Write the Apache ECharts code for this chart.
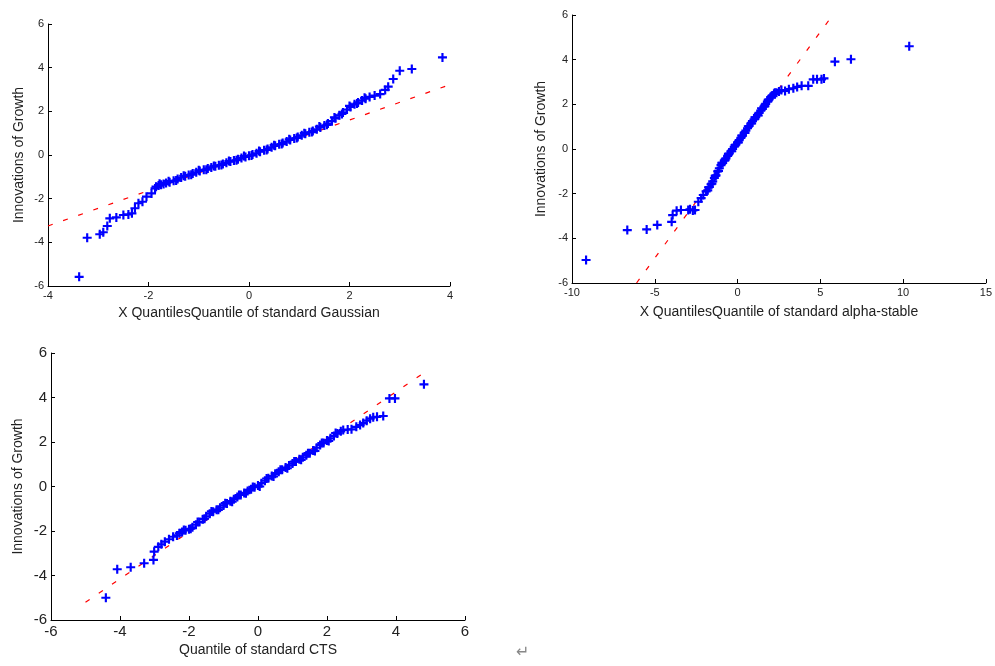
<!DOCTYPE html>
<html>
<head>
<meta charset="utf-8">
<script src="https://cdn.jsdelivr.net/npm/echarts@6/dist/echarts.min.js"></script>
<style>
  html, body { margin: 0; padding: 0; background: #fff; }
  #chart { width: 995px; height: 666px; }
</style>
</head>
<body>
<div id="chart"></div>
<script>
// sample vs theoretical quantiles ([x, y])
const gaussPts = [
  [-3.38,-5.58],[-3.22,-3.79],[-2.97,-3.63],[-2.9,-3.54],[-2.82,-3.25],[-2.77,-2.9],[-2.64,-2.86],
  [-2.5,-2.75],[-2.4,-2.72],[-2.33,-2.67],[-2.27,-2.44],[-2.2,-2.21],[-2.12,-2.14],[-2.04,-1.91],
  [-1.94,-1.76],[-1.87,-1.53],
  [-1.85,-1.45],[-1.8,-1.4],[-1.75,-1.36],[-1.7,-1.33],[-1.65,-1.28],[-1.58,-1.25],[-1.5,-1.18],
  [-1.42,-1.1],[-1.35,-1.03],[-1.27,-0.97],[-1.2,-0.92],[-1.12,-0.85],[-1.05,-0.79],[-0.98,-0.73],
  [-0.9,-0.68],[-0.82,-0.62],[-0.75,-0.57],[-0.67,-0.52],[-0.6,-0.47],[-0.52,-0.41],[-0.45,-0.36],
  [-0.37,-0.3],[-0.3,-0.25],[-0.22,-0.19],[-0.15,-0.14],[-0.07,-0.09],[0,-0.04],[0.07,0.02],
  [0.15,0.08],[0.22,0.15],[0.3,0.22],[0.37,0.28],[0.45,0.35],[0.52,0.42],[0.6,0.49],[0.67,0.55],
  [0.75,0.62],[0.82,0.69],[0.9,0.76],[0.97,0.83],[1.05,0.9],[1.12,0.97],[1.2,1.04],[1.27,1.1],
  [1.35,1.18],[1.42,1.26],[1.5,1.35],[1.57,1.44],[1.65,1.55],[1.72,1.68],[1.8,1.82],[1.87,1.95],
  [1.95,2.08],[2.02,2.2],[2.1,2.32],[2.17,2.41],[2.25,2.5],[2.32,2.58],[2.4,2.66],
  [-1.78,-1.32],[-1.6,-1.2],[-1.45,-1.17],[-1.3,-0.95],[-1.15,-0.9],[-1.0,-0.7],[-0.85,-0.67],
  [-0.7,-0.5],[-0.55,-0.46],[-0.4,-0.28],[-0.25,-0.24],[-0.1,-0.05],[0.05,-0.02],[0.2,0.18],
  [0.35,0.23],[0.5,0.45],[0.65,0.5],[0.8,0.72],[0.95,0.78],[1.1,1.0],[1.25,1.05],[1.4,1.3],
  [1.55,1.38],[1.7,1.72],[1.85,1.88],[2.0,2.25],[2.15,2.36],[2.3,2.62],
  [2.5,2.72],[2.61,2.79],[2.71,2.98],[2.77,3.13],[2.87,3.48],[3.0,3.86],[3.24,3.94],[3.85,4.47]
];
const stablePts = [
  [-9.15,-4.97],[-6.66,-3.63],[-5.49,-3.6],[-4.85,-3.4],[-3.98,-3.26],[-3.92,-2.96],[-3.68,-2.76],
  [-3.42,-2.73],[-2.98,-2.73],[-2.87,-2.7],[-2.7,-2.75],[-2.57,-2.73],[-2.37,-2.36],[-2.2,-2.2],
  [-2.07,-2.06],[-1.9,-1.9],
  [-1.8,-1.85],[-1.7,-1.7],[-1.6,-1.58],[-1.5,-1.45],[-1.4,-1.3],[-1.3,-1.18],[-1.2,-1.0],
  [-1.1,-0.86],[-1.0,-0.72],[-0.9,-0.62],[-0.8,-0.52],[-0.7,-0.42],[-0.6,-0.31],[-0.5,-0.2],
  [-0.4,-0.1],[-0.3,0.0],[-0.2,0.1],[-0.1,0.2],[0,0.3],[0.1,0.4],[0.2,0.5],[0.3,0.6],[0.4,0.72],
  [0.5,0.82],[0.6,0.93],[0.7,1.03],[0.8,1.14],[0.9,1.25],[1.0,1.33],[1.1,1.42],[1.2,1.52],
  [1.3,1.62],[1.4,1.72],[1.5,1.8],[1.6,1.9],[1.7,2.02],[1.8,2.12],[1.9,2.22],[2.0,2.32],
  [2.1,2.4],[2.2,2.47],[2.35,2.52],
  [-1.75,-1.72],[-1.55,-1.55],[-1.35,-1.2],[-1.15,-0.98],[-0.95,-0.62],[-0.75,-0.5],[-0.55,-0.22],
  [-0.35,-0.1],[-0.15,0.18],[0.05,0.3],[0.25,0.6],[0.45,0.72],[0.65,1.02],[0.85,1.15],[1.05,1.42],
  [1.25,1.5],[1.45,1.82],[1.65,1.92],[1.85,2.2],[2.05,2.3],[2.25,2.52],
  [2.5,2.58],[2.65,2.64],[2.87,2.6],[3.1,2.68],[3.37,2.72],[3.6,2.78],[3.87,2.83],[4.27,2.83],
  [4.57,3.12],[4.8,3.12],[5.07,3.12],[5.22,3.16],[5.88,3.91],[6.85,4.02],[10.37,4.6]
];
const ctsPts = [
  [-4.41,-5.0],[-4.08,-3.72],[-3.69,-3.63],[-3.3,-3.45],[-3.03,-3.3],[-3.01,-2.93],[-2.89,-2.71],
  [-2.8,-2.6],[-2.7,-2.48],[-2.58,-2.37],[-2.46,-2.26],[-2.35,-2.2],[-2.28,-2.1],
  [-2.2,-2.05],[-2.1,-1.97],[-2.0,-1.92],[-1.9,-1.83],[-1.8,-1.72],[-1.7,-1.6],[-1.6,-1.47],
  [-1.5,-1.34],[-1.4,-1.22],[-1.3,-1.13],[-1.2,-1.04],[-1.1,-0.95],[-1.0,-0.85],[-0.9,-0.76],
  [-0.8,-0.66],[-0.7,-0.57],[-0.6,-0.47],[-0.5,-0.38],[-0.4,-0.29],[-0.3,-0.2],[-0.2,-0.12],
  [-0.1,-0.03],[0,0.05],[0.1,0.15],[0.2,0.26],[0.3,0.37],[0.4,0.47],[0.5,0.57],[0.6,0.66],
  [0.7,0.75],[0.8,0.85],[0.9,0.94],[1.0,1.03],[1.1,1.12],[1.2,1.22],[1.3,1.31],[1.4,1.41],
  [1.5,1.5],[1.6,1.62],[1.7,1.74],[1.8,1.86],[1.9,1.96],[2.0,2.07],[2.1,2.17],[2.2,2.27],[2.3,2.38],
  [-2.15,-1.95],[-1.95,-1.9],[-1.75,-1.6],[-1.55,-1.45],[-1.35,-1.12],[-1.15,-1.05],[-0.95,-0.75],
  [-0.75,-0.68],[-0.55,-0.38],[-0.35,-0.3],[-0.15,-0.02],[0.05,0.0],[0.25,0.36],[0.45,0.45],
  [0.65,0.75],[0.85,0.82],[1.05,1.12],[1.25,1.2],[1.45,1.5],[1.65,1.6],[1.85,1.95],[2.05,2.05],
  [2.25,2.4],
  [2.4,2.48],[2.47,2.54],[2.6,2.56],[2.71,2.57],[2.85,2.68],[2.96,2.76],[3.05,2.85],[3.15,2.96],
  [3.25,3.05],[3.34,3.11],[3.45,3.13],[3.63,3.17],[3.81,3.96],[3.97,3.96],[4.81,4.59]
];

// reference lines (end points)
const gaussRef = [[-4, -3.25], [4, 3.22]];
const stableRef = [[-6.1, -6], [5.75, 6]];
const ctsRef = [[-5.0, -5.2], [4.85, 5.15]];

const yTicks = { min: -6, max: 6, interval: 2 };
const xRanges = [
  { min: -4, max: 4, interval: 2 },
  { min: -10, max: 15, interval: 5 },
  { min: -6, max: 6, interval: 2 }
];
const xNames = [
  'X QuantilesQuantile of standard Gaussian',
  'X QuantilesQuantile of standard alpha-stable',
  'Quantile of standard CTS'
];
const yName = 'Innovations of Growth';

const plusPath = 'path://M-1,-0.24H-0.24V-1H0.24V-0.24H1V0.24H0.24V1H-0.24V0.24H-1Z';
const font = 'Liberation Sans, Arial, sans-serif';

const grids = [
  { left: 48, top: 24, width: 402, height: 262 },
  { left: 572, top: 15, width: 414, height: 268 },
  { left: 51, top: 353, width: 414, height: 267 }
];
const tickFont = [11, 11, 15];
const xNameGap = [20, 22, 23];
const yNameGap = [22, 24, 26];

const axisBase = {
  axisLine: { onZero: false, lineStyle: { color: '#000', width: 1 } },
  axisTick: { inside: true, length: 4, lineStyle: { color: '#000' } },
  splitLine: { show: false }
};

const xAxis = grids.map((g, i) => ({
  ...axisBase,
  type: 'value', gridIndex: i,
  min: xRanges[i].min, max: xRanges[i].max, interval: xRanges[i].interval,
  name: xNames[i], nameLocation: 'middle', nameGap: xNameGap[i],
  nameTextStyle: { color: '#222', fontSize: 14, fontFamily: font },
  axisLabel: { color: '#222', fontSize: tickFont[i], fontFamily: font, margin: 4 }
}));
const yAxis = grids.map((g, i) => ({
  ...axisBase,
  type: 'value', gridIndex: i,
  min: yTicks.min, max: yTicks.max, interval: yTicks.interval,
  name: yName, nameLocation: 'middle', nameGap: yNameGap[i], nameRotate: 90,
  nameTextStyle: { color: '#222', fontSize: 14, fontFamily: font },
  axisLabel: { color: '#222', fontSize: tickFont[i], fontFamily: font, margin: 4 }
}));

const refs = [gaussRef, stableRef, ctsRef];
const pts = [gaussPts, stablePts, ctsPts];
const series = [];
refs.forEach((r, i) => {
  series.push({
    type: 'line', xAxisIndex: i, yAxisIndex: i, data: r,
    symbol: 'none', silent: true, z: 1,
    lineStyle: { color: '#ff0000', width: 1.2, type: [5, 11] }
  });
});
pts.forEach((p, i) => {
  series.push({
    type: 'scatter', xAxisIndex: i, yAxisIndex: i, data: p,
    symbol: plusPath, symbolSize: 9, z: 2,
    itemStyle: { color: '#0000ff', opacity: 1 }
  });
});

const chart = echarts.init(document.getElementById('chart'), null, { renderer: 'canvas' });
chart.setOption({
  animation: false,
  backgroundColor: '#fff',
  grid: grids,
  xAxis: xAxis,
  yAxis: yAxis,
  series: series,
  graphic: [{
    type: 'text', left: 516, top: 645,
    style: { text: '↵', fill: '#888', fontSize: 16, fontFamily: 'DejaVu Sans' }
  }]
});
</script>
</body>
</html>
